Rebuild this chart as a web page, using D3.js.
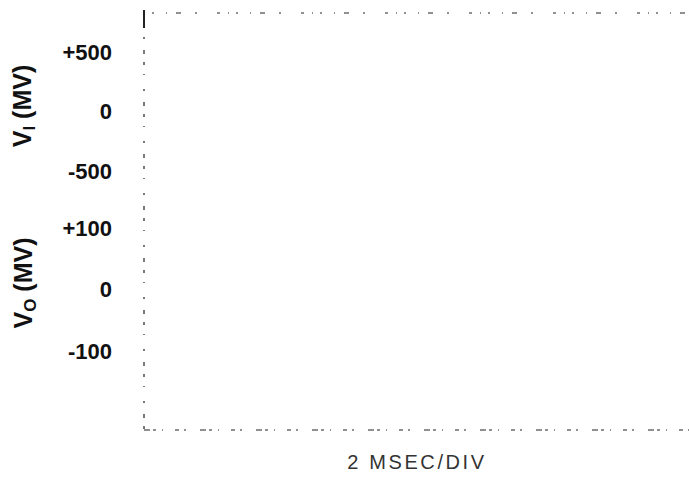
<!DOCTYPE html>
<html>
<head>
<meta charset="utf-8">
<script src="https://cdn.jsdelivr.net/npm/d3@7"></script>
<style>
  html, body { margin: 0; padding: 0; background: #fff; }
  svg { display: block; }
  .tick text { font-family: "Liberation Sans", Arial, sans-serif; font-weight: bold; font-size: 22px; fill: #111; }
  .ylabel { font-family: "Liberation Sans", Arial, sans-serif; font-weight: bold; font-size: 25px; fill: #111; }
  .xlabel { font-family: "Liberation Sans", Arial, sans-serif; font-size: 20px; letter-spacing: 2.6px; fill: #333; }
</style>
</head>
<body>
<script>
// Oscilloscope trace scales: input and output voltage (mV), 2 ms per division.
const inputTicks = [500, 0, -500];
const outputTicks = [100, 0, -100];
const msPerDiv = 2;
const divisions = 10;

const W = 689, H = 479;
const svg = d3.select("body").append("svg").attr("width", W).attr("height", H);

const x = d3.scaleLinear().domain([0, divisions * msPerDiv]).range([144, 689]);
const yIn = d3.scaleLinear().domain([-500, 500]).range([171, 52]);
const yOut = d3.scaleLinear().domain([-100, 100]).range([351, 228]);
const frameTop = 13, frameBottom = 430;

const signed = d => d > 0 ? "+" + d : (d < 0 ? "-" + Math.abs(d) : "0");

// Left tick labels for both channels
function channelAxis(scale, ticks) {
  const g = svg.append("g")
    .attr("transform", `translate(${x(0)},0)`)
    .call(d3.axisLeft(scale).tickValues(ticks).tickFormat(signed).tickSize(0).tickPadding(32));
  g.select(".domain").remove();
  return g;
}
channelAxis(yIn, inputTicks);
channelAxis(yOut, outputTicks);

// Faint dotted frame of the scope screen
const frame = svg.append("g").attr("fill", "none").attr("stroke", "#222");
frame.append("line")
  .attr("x1", x(0)).attr("x2", x(0)).attr("y1", 10).attr("y2", frameBottom)
  .attr("stroke-width", 1.2).attr("stroke-dasharray", "3,9,1,14,2,11,4,8");
frame.append("line")
  .attr("x1", x(0)).attr("x2", x(divisions * msPerDiv)).attr("y1", frameTop).attr("y2", frameTop)
  .attr("stroke-width", 1.2).attr("stroke-dasharray", "1,7,2,12,1,9,5,14,2,20,3,8");
frame.append("line")
  .attr("x1", x(0)).attr("x2", x(divisions * msPerDiv)).attr("y1", frameBottom).attr("y2", frameBottom)
  .attr("stroke-width", 1.2).attr("stroke-dasharray", "6,3,3,6,1,12,4,5,2,14");
frame.append("line")
  .attr("x1", x(0)).attr("x2", x(0)).attr("y1", 10).attr("y2", 28)
  .attr("stroke-width", 2);

// Channel labels
function channelLabel(cx, cy, sub) {
  const t = svg.append("text").attr("class", "ylabel")
    .attr("transform", `translate(${cx},${cy}) rotate(-90)`)
    .attr("text-anchor", "middle").attr("dominant-baseline", "central");
  t.append("tspan").text("V");
  t.append("tspan").attr("font-size", "17px").attr("dy", "7").text(sub);
  t.append("tspan").attr("dy", "-7").text(" (MV)");
}
channelLabel(22, 106, "I");
channelLabel(23, 283, "O");

// Time base label
svg.append("text").attr("class", "xlabel")
  .attr("x", 417).attr("y", 469).attr("text-anchor", "middle")
  .text(`${msPerDiv} MSEC/DIV`);
</script>
</body>
</html>
